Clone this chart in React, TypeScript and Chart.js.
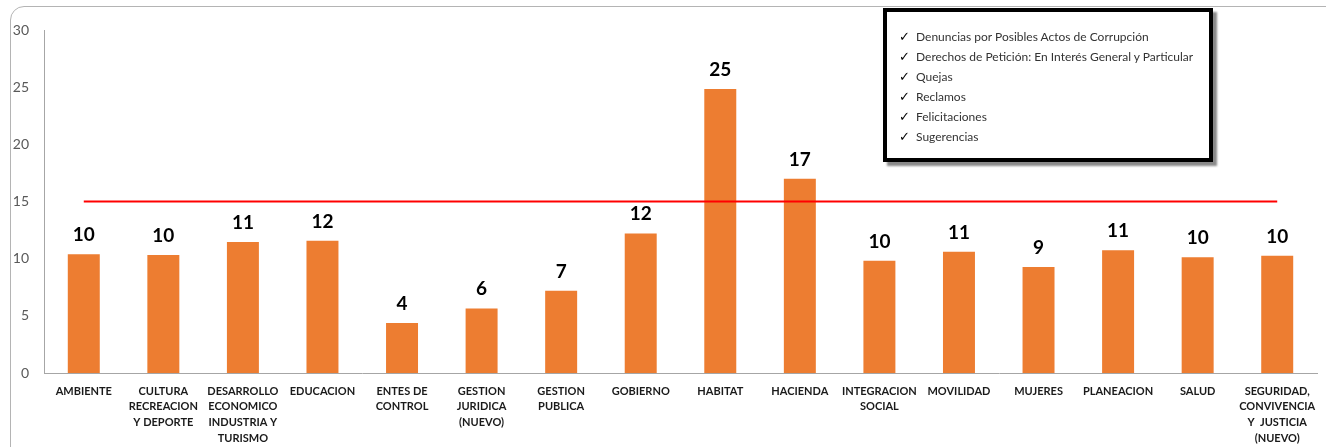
import React, { useEffect, useRef } from "react";
import { Chart, registerables } from "chart.js";

Chart.register(...registerables);

const categories: (string | string[])[] = [
  "AMBIENTE",
  ["CULTURA", "RECREACION", "Y DEPORTE"],
  ["DESARROLLO", "ECONOMICO", "INDUSTRIA Y", "TURISMO"],
  "EDUCACION",
  ["ENTES DE", "CONTROL"],
  ["GESTION", "JURIDICA", "(NUEVO)"],
  ["GESTION", "PUBLICA"],
  "GOBIERNO",
  "HABITAT",
  "HACIENDA",
  ["INTEGRACION", "SOCIAL"],
  "MOVILIDAD",
  "MUJERES",
  "PLANEACION",
  "SALUD",
  ["SEGURIDAD,", "CONVIVENCIA", "Y  JUSTICIA", "(NUEVO)"],
];

const values = [10.38, 10.32, 11.46, 11.57, 4.37, 5.65, 7.2, 12.21, 24.85, 17.0, 9.82, 10.61, 9.27, 10.73, 10.12, 10.26];

const threshold = [15, 15, 15, 15, 15, 15, 15, 15, 15, 15, 15, 15, 15, 15, 15, 15];

const yMin = 0;
const yMax = 30;
const yStep = 5;

const legendItems = [
  "Denuncias por Posibles Actos de Corrupción",
  "Derechos de Petición: En Interés General y Particular",
  "Quejas",
  "Reclamos",
  "Felicitaciones",
  "Sugerencias",
];

const valueLabelPlugin = {
  id: "valueLabels",
  afterDatasetsDraw(chart: any) {
    const meta = chart.getDatasetMeta(0);
    const ctx = chart.ctx;
    ctx.save();
    ctx.font = "bold 19px Lato";
    ctx.fillStyle = "#000000";
    ctx.textAlign = "center";
    ctx.textBaseline = "alphabetic";
    meta.data.forEach((el: any, i: number) => {
      ctx.fillText(String(Math.round(values[i])), el.x, el.y - 13);
    });
    ctx.restore();
  },
};

export default function App() {
  const canvasRef = useRef<HTMLCanvasElement | null>(null);

  useEffect(() => {
    if (!canvasRef.current) return;
    const chart = new Chart(canvasRef.current, {
      type: "bar",
      data: {
        labels: categories as any,
        datasets: [
          {
            type: "bar",
            data: values,
            backgroundColor: "#ED7D31",
            barPercentage: 0.402,
            categoryPercentage: 1,
            order: 1,
          },
          {
            type: "line",
            data: threshold,
            borderColor: "#FF0000",
            borderWidth: 2,
            pointRadius: 0,
            fill: false,
            order: 0,
          } as any,
        ],
      },
      options: {
        responsive: false,
        animation: false,
        layout: { padding: { left: 0, top: 30, right: 9, bottom: 0 } },
        plugins: {
          legend: { display: false },
          tooltip: { enabled: false },
        },
        scales: {
          x: {
            grid: { display: false, drawTicks: false },
            border: { display: true, color: "#a6a6a6", width: 1 },
            ticks: {
              autoSkip: false,
              maxRotation: 0,
              minRotation: 0,
              padding: 10,
              color: "#1a1a1a",
              font: { family: "Lato", size: 11, weight: "bold", lineHeight: 1.45 },
            },
            afterFit: (scale: any) => {
              scale.height = 74;
            },
          },
          y: {
            min: yMin,
            max: yMax,
            grid: { display: false, drawTicks: false },
            border: { display: true, color: "#a6a6a6", width: 1 },
            ticks: {
              stepSize: yStep,
              padding: 15,
              color: "#595959",
              font: { family: "Lato", size: 14 },
            },
            afterFit: (scale: any) => {
              scale.width = 44;
            },
          },
        },
      },
      plugins: [valueLabelPlugin],
    });
    return () => chart.destroy();
  }, []);

  return (
    <div
      style={{
        position: "fixed",
        left: 0,
        top: 0,
        width: 1326,
        height: 447,
        overflow: "hidden",
        background: "#ffffff",
      }}
    >
      <div
        style={{
          position: "absolute",
          left: 10,
          top: 6,
          width: 1400,
          height: 500,
          border: "1px solid #b4b4b4",
          borderRadius: 14,
        }}
      />
      <canvas
        ref={canvasRef}
        width={1326}
        height={447}
        style={{ position: "absolute", left: 0, top: 0, width: 1326, height: 447 }}
      />
      <div
        style={{
          position: "absolute",
          left: 883,
          top: 8,
          width: 322,
          height: 146,
          border: "4px solid #000000",
          boxShadow: "4px 4px 2px #8a8a8a",
          background: "#ffffff",
          fontFamily: "Lato",
          fontSize: 12,
          color: "#333333",
          boxSizing: "content-box",
        }}
      >
        {legendItems.map((t, i) => (
          <div
            key={i}
            style={{
              position: "absolute",
              left: 12,
              top: 14 + i * 20,
              height: 20,
              lineHeight: "20px",
              whiteSpace: "nowrap",
            }}
          >
            <span style={{ display: "inline-block", width: 17, color: "#000000", fontSize: 13 }}>✓</span>
            <span>{t}</span>
          </div>
        ))}
      </div>
    </div>
  );
}
